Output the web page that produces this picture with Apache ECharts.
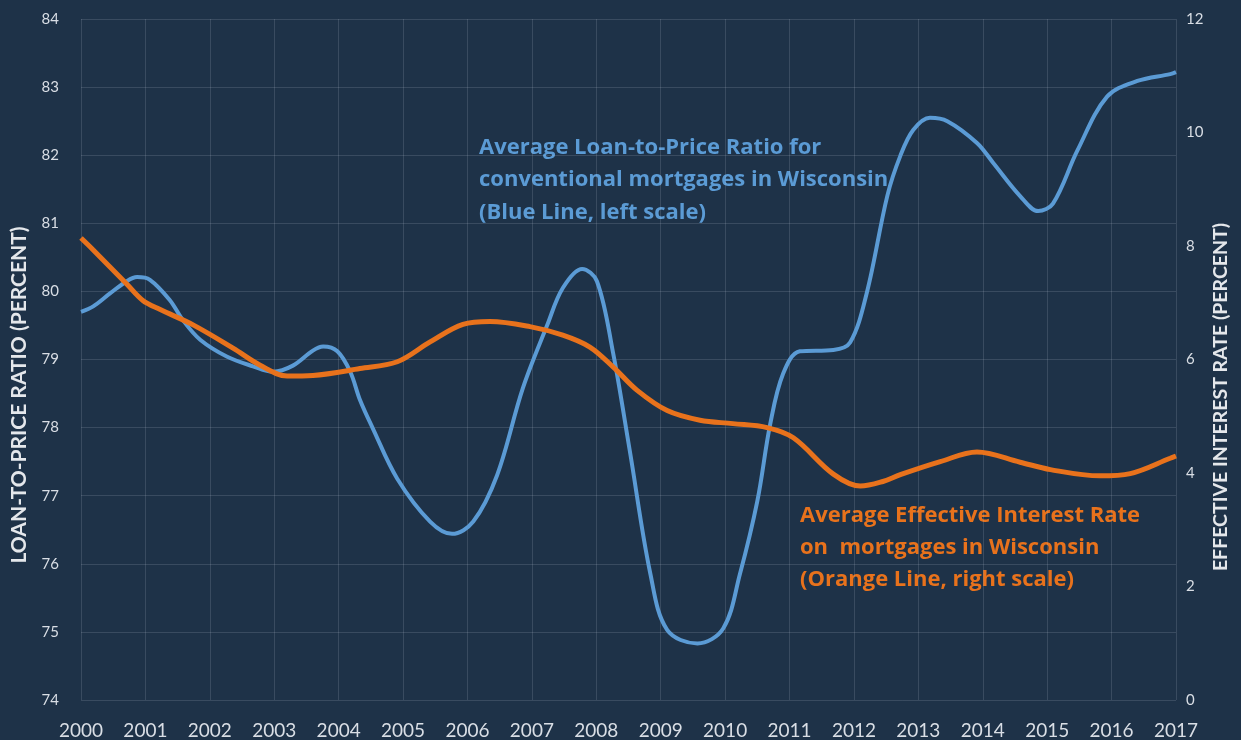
<!DOCTYPE html>
<html>
<head>
<meta charset="utf-8">
<title>Wisconsin mortgages: loan-to-price ratio and effective interest rate</title>
<script src="https://cdn.jsdelivr.net/npm/echarts@6/dist/echarts.min.js"></script>
<style>
  html, body { margin: 0; padding: 0; background: #1e3248; }
  #chart { width: 1241px; height: 740px; }
</style>
</head>
<body>
<div id="chart"></div>
<script>
// Year axis ticks
const years = [2000, 2001, 2002, 2003, 2004, 2005, 2006, 2007, 2008,
               2009, 2010, 2011, 2012, 2013, 2014, 2015, 2016, 2017];

// Average loan-to-price ratio, conventional mortgages (percent) — [year, value]
const loanToPrice = [
  [2000.00, 79.70], [2000.19, 79.78], [2000.45, 79.97], [2000.71, 80.15],
  [2000.87, 80.21], [2001.07, 80.17], [2001.38, 79.87], [2001.58, 79.58],
  [2001.85, 79.29], [2002.27, 79.04], [2002.67, 78.90], [2002.98, 78.82],
  [2003.29, 78.91], [2003.60, 79.13], [2003.76, 79.19], [2003.98, 79.12],
  [2004.18, 78.82], [2004.33, 78.41], [2004.53, 77.99], [2004.91, 77.25],
  [2005.42, 76.62], [2005.76, 76.44], [2006.09, 76.62], [2006.46, 77.30],
  [2006.86, 78.58], [2007.24, 79.51], [2007.48, 80.05], [2007.78, 80.33],
  [2008.01, 80.15], [2008.26, 79.10], [2008.52, 77.66], [2008.84, 75.85],
  [2009.10, 75.03], [2009.57, 74.83], [2009.97, 75.05], [2010.23, 75.85],
  [2010.50, 76.92], [2010.70, 78.05], [2010.90, 78.79], [2011.16, 79.12],
  [2011.68, 79.14], [2011.94, 79.25], [2012.20, 79.98], [2012.52, 81.41],
  [2012.72, 81.99], [2012.92, 82.37], [2013.18, 82.55], [2013.45, 82.50],
  [2013.91, 82.18], [2014.16, 81.89], [2014.58, 81.40], [2014.86, 81.18],
  [2015.09, 81.29], [2015.47, 82.07], [2015.93, 82.86], [2016.40, 83.09],
  [2016.91, 83.19], [2017.00, 83.22]
];

// Average effective interest rate on mortgages (percent) — [year, value]
const interestRate = [
  [2000.00, 8.14], [2000.19, 7.93], [2000.71, 7.33], [2000.96, 7.04],
  [2001.23, 6.88], [2001.74, 6.61], [2002.36, 6.20], [2002.78, 5.90],
  [2003.20, 5.71], [2003.60, 5.72], [2004.33, 5.84], [2004.91, 5.96],
  [2005.42, 6.31], [2005.93, 6.62], [2006.35, 6.67], [2006.97, 6.58],
  [2007.48, 6.43], [2007.90, 6.22], [2008.26, 5.87], [2008.63, 5.46],
  [2009.10, 5.10], [2009.61, 4.93], [2010.12, 4.87], [2010.65, 4.80],
  [2011.06, 4.62], [2011.68, 3.98], [2012.10, 3.77], [2012.45, 3.85],
  [2012.72, 3.97], [2013.34, 4.20], [2013.91, 4.37], [2014.58, 4.19],
  [2015.05, 4.06], [2015.82, 3.95], [2016.29, 3.99], [2016.91, 4.26],
  [2017.00, 4.30]
];

const leftAxisTitle = 'LOAN-TO-PRICE RATIO (PERCENT)';
const rightAxisTitle = 'EFFECTIVE INTEREST RATE (PERCENT)';
const blueNote = 'Average Loan-to-Price Ratio for\nconventional mortgages in Wisconsin\n(Blue Line, left scale)';
const orangeNote = 'Average Effective Interest Rate\non  mortgages in Wisconsin\n(Orange Line, right scale)';

const BLUE = '#5b9bd5';
const ORANGE = '#e8721c';
const GRID = 'rgba(200,212,226,0.16)';
const TICK = '#d9dee5';
const FONT = 'Lato, "Open Sans", sans-serif';
const NOTE_FONT = '"Open Sans", Lato, sans-serif';

const chart = echarts.init(document.getElementById('chart'), null, { renderer: 'canvas' });

chart.setOption({
  backgroundColor: '#1e3248',
  animation: false,
  grid: { left: 81, right: 65, top: 19, bottom: 40, containLabel: false },
  xAxis: {
    type: 'value',
    min: years[0],
    max: years[years.length - 1],
    interval: 1,
    axisLine: { show: false },
    axisTick: { show: false },
    splitLine: { show: true, lineStyle: { color: GRID, width: 1 } },
    axisLabel: {
      color: TICK, fontSize: 19, fontFamily: FONT, margin: 21,
      formatter: v => String(v)
    }
  },
  yAxis: [
    {
      type: 'value', position: 'left', min: 74, max: 84, interval: 1,
      axisLine: { show: false }, axisTick: { show: false },
      splitLine: { show: true, lineStyle: { color: GRID, width: 1 } },
      axisLabel: { color: TICK, fontSize: 15, fontFamily: FONT, margin: 22 }
    },
    {
      type: 'value', position: 'right', min: 0, max: 12, interval: 2,
      axisLine: { show: false }, axisTick: { show: false },
      splitLine: { show: false },
      axisLabel: { color: TICK, fontSize: 15, fontFamily: FONT, margin: 10 }
    }
  ],
  series: [
    {
      name: 'Loan-to-Price Ratio', type: 'line', yAxisIndex: 0,
      data: loanToPrice, showSymbol: false, smooth: 0.35,
      lineStyle: { color: BLUE, width: 4 }, z: 2
    },
    {
      name: 'Effective Interest Rate', type: 'line', yAxisIndex: 1,
      data: interestRate, showSymbol: false, smooth: 0.35,
      lineStyle: { color: ORANGE, width: 5 }, z: 3
    }
  ],
  graphic: [
    {
      type: 'text', x: 19, y: 395, rotation: Math.PI / 2,
      style: {
        text: leftAxisTitle, fill: '#e4e7eb', align: 'center', verticalAlign: 'middle',
        font: 'bold 21px ' + FONT
      }
    },
    {
      type: 'text', x: 1221, y: 397, rotation: Math.PI / 2,
      style: {
        text: rightAxisTitle, fill: '#e4e7eb', align: 'center', verticalAlign: 'middle',
        font: 'bold 19.5px ' + FONT
      }
    },
    {
      type: 'text', x: 479, y: 131,
      style: {
        text: blueNote, fill: BLUE, align: 'left', verticalAlign: 'top',
        font: 'bold 22px ' + NOTE_FONT, lineHeight: 32.5
      }
    },
    {
      type: 'text', x: 800, y: 500,
      style: {
        text: orangeNote, fill: ORANGE, align: 'left', verticalAlign: 'top',
        font: 'bold 22px ' + NOTE_FONT, lineHeight: 32
      }
    }
  ]
});
</script>
</body>
</html>
